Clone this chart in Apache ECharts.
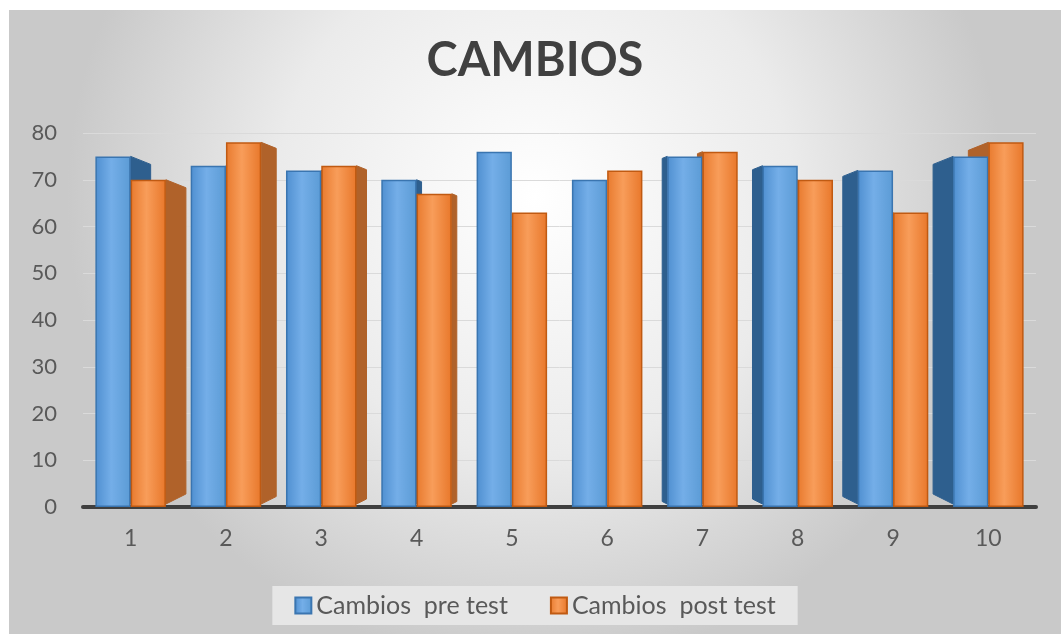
<!DOCTYPE html>
<html>
<head>
<meta charset="utf-8">
<script src="https://cdn.jsdelivr.net/npm/echarts@6/dist/echarts.min.js"></script>
<style>
  html, body { margin: 0; padding: 0; background: #ffffff; overflow: hidden; }
  #chart { position: absolute; left: 9px; top: 10px; width: 1052px; height: 624px; }
</style>
</head>
<body>
<div id="chart"></div>
<script>
const titleText = 'CAMBIOS';
const categories = ['1', '2', '3', '4', '5', '6', '7', '8', '9', '10'];
const seriesNames = ['Cambios  pre test', 'Cambios  post test'];
const preTest = [75, 73, 72, 70, 76, 70, 75, 73, 72, 75];
const postTest = [70, 78, 73, 67, 63, 72, 76, 70, 63, 78];
const yTicks = { min: 0, max: 80, interval: 10 };

const FONT = 'Lato, "Open Sans", sans-serif';
const CAT_GAP = 0.26;

function grad(c1, c2, c3) {
  return new echarts.graphic.LinearGradient(0, 0, 1, 0, [
    { offset: 0, color: c1 },
    { offset: 0.45, color: c2 },
    { offset: 1, color: c3 }
  ]);
}

// side faces (pseudo 3D) drawn behind the bars
const sideData = categories.map((c, i) => [i, preTest[i], postTest[i]]);
function renderSides(params, api) {
  const idx = api.value(0);
  const n = categories.length;
  const mid = (n - 1) / 2;
  const d = Math.max(0, Math.abs(idx - mid) - 0.5) * 5;
  if (d <= 0) return null;
  const catW = api.size([1, 0])[0];
  const bw = catW * (1 - CAT_GAP) / 2;
  const base = api.coord([idx, 0]);
  const cx = base[0];
  const yBase = base[1] - 3;
  const children = [];
  const vals = [api.value(1), api.value(2)];
  const cols = ['#2e5f8e', '#b0622a'];
  for (let s = 0; s < 2; s++) {
    const yTop = api.coord([idx, vals[s]])[1];
    const xL = cx - bw + s * bw;
    const xR = xL + bw;
    let pts;
    if (idx < mid) {
      pts = [[xR, yTop], [xR + d, yTop + 0.4 * d], [xR + d, yBase - 0.5 * d], [xR, yBase]];
    } else {
      pts = [[xL, yTop], [xL - d, yTop + 0.4 * d], [xL - d, yBase - 0.5 * d], [xL, yBase]];
    }
    children.push({
      type: 'polygon',
      shape: { points: pts },
      style: { fill: cols[s], stroke: cols[s], lineWidth: 1 }
    });
  }
  return { type: 'group', children: children };
}

const chart = echarts.init(document.getElementById('chart'), null, { renderer: 'canvas' });
chart.setOption({
  backgroundColor: new echarts.graphic.RadialGradient(0.5, 0.3, 0.75, [
    { offset: 0, color: '#ffffff' },
    { offset: 0.55, color: '#ebebeb' },
    { offset: 1, color: '#c9c9c9' }
  ]),
  title: {
    text: titleText,
    left: 'center',
    top: 22,
    textStyle: { fontFamily: FONT, fontSize: 47, fontWeight: 'bold', color: '#404040' }
  },
  legend: {
    bottom: 9,
    left: 'center',
    icon: 'rect',
    itemWidth: 16,
    itemHeight: 16,
    itemGap: 42,
    padding: [7, 22],
    backgroundColor: '#e6e6e6',
    textStyle: { fontFamily: FONT, fontSize: 25, color: '#595959' },
    data: seriesNames
  },
  grid: { left: 74, right: 25, top: 123, bottom: 127, containLabel: false },
  xAxis: {
    type: 'category',
    data: categories,
    axisLine: { show: true, lineStyle: { color: '#3f3f3f', width: 4 } },
    axisTick: { show: false },
    axisLabel: { fontFamily: FONT, fontSize: 23, color: '#595959', margin: 20 }
  },
  yAxis: {
    type: 'value',
    min: yTicks.min,
    max: yTicks.max,
    interval: yTicks.interval,
    axisLine: { show: false },
    axisTick: { show: false },
    axisLabel: { fontFamily: FONT, fontSize: 22, color: '#595959', margin: 26 },
    splitLine: { show: true, lineStyle: { color: '#dadada', width: 1 } }
  },
  series: [
    {
      type: 'custom',
      name: 'sides',
      renderItem: renderSides,
      data: sideData,
      encode: { x: 0, y: [1, 2] },
      z: 1,
      silent: true
    },
    {
      name: seriesNames[0],
      type: 'bar',
      data: preTest,
      barGap: '0%',
      barCategoryGap: (CAT_GAP * 100) + '%',
      z: 2,
      itemStyle: {
        color: grad('#4f8fd0', '#74aee8', '#5b9bd5'),
        borderColor: '#3a75b0',
        borderWidth: 1.5
      }
    },
    {
      name: seriesNames[1],
      type: 'bar',
      data: postTest,
      z: 2,
      itemStyle: {
        color: grad('#e87a2e', '#f89d5a', '#e8772a'),
        borderColor: '#c05a12',
        borderWidth: 1.5
      }
    }
  ]
});
</script>
</body>
</html>
